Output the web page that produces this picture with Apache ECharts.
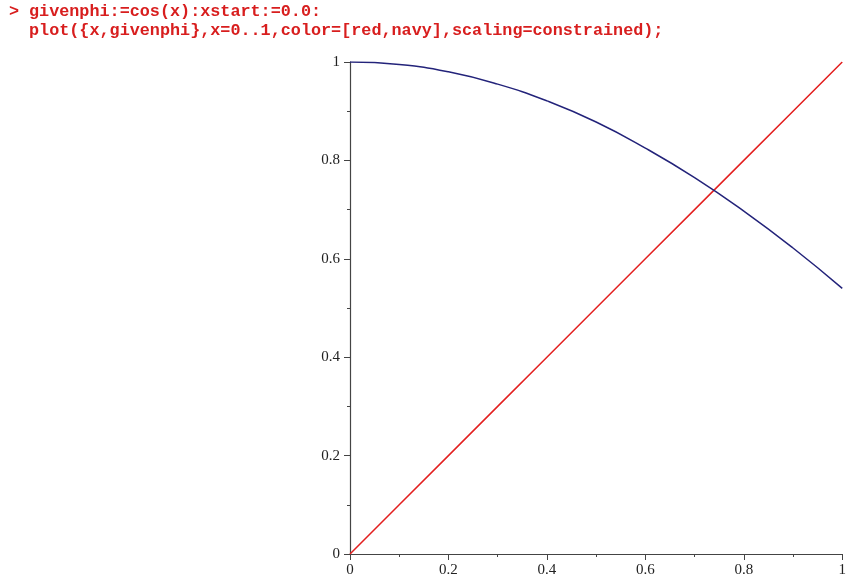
<!DOCTYPE html>
<html>
<head>
<meta charset="utf-8">
<script src="https://cdn.jsdelivr.net/npm/echarts@6/dist/echarts.min.js"></script>
<style>
  html, body { margin: 0; padding: 0; background: #fff; }
  #chart { width: 849px; height: 581px; }
</style>
</head>
<body>
<div id="chart"></div>
<script>
// x sample points
const xs = [0, 0.1, 0.2, 0.3, 0.4, 0.5, 0.6, 0.7, 0.8, 0.9, 1.0]
// red line: y = x
const redY = [0, 0.1, 0.2, 0.3, 0.4, 0.5, 0.6, 0.7, 0.8, 0.9, 1.0]
// navy curve: givenphi = cos(x)
const navyY = [1, 0.995, 0.980, 0.955, 0.921, 0.878, 0.825, 0.765, 0.697, 0.622, 0.540]
const tickLabels = ['0', '0.2', '0.4', '0.6', '0.8', '1']

const cmdLines = [
  'givenphi:=cos(x):xstart:=0.0:',
  'plot({x,givenphi},x=0..1,color=[red,navy],scaling=constrained);'
]

const chart = echarts.init(document.getElementById('chart'))

const axisCommon = {
  type: 'value',
  min: 0,
  max: 1,
  interval: 0.2,
  axisLine: { show: true, lineStyle: { color: '#444', width: 1.2 } },
  axisTick: { show: true, length: 6, lineStyle: { color: '#444' } },
  minorTick: { show: true, splitNumber: 2, length: 3, lineStyle: { color: '#444' } },
  splitLine: { show: false },
  axisLabel: {
    color: '#222',
    fontFamily: 'Liberation Serif',
    fontSize: 15,
    formatter: v => tickLabels[Math.round(v * 5)]
  }
}

const cmdFont = 'bold 16.8px "Liberation Mono"'

chart.setOption({
  animation: false,
  graphic: [
    { type: 'text', left: 9, top: 3, style: { text: '>', fill: '#d81e1e', font: cmdFont } },
    ...cmdLines.map((t, i) => ({
      type: 'text',
      left: 29,
      top: 3 + i * 19,
      style: { text: t, fill: '#d81e1e', font: cmdFont }
    }))
  ],
  grid: { left: 350, right: 4, top: 62, bottom: 27 },
  xAxis: { ...axisCommon, axisLabel: { ...axisCommon.axisLabel, margin: 9 } },
  yAxis: { ...axisCommon, axisLabel: { ...axisCommon.axisLabel, margin: 10 } },
  series: [
    {
      type: 'line',
      data: xs.map((x, i) => [x, redY[i]]),
      showSymbol: false,
      lineStyle: { color: '#e31e1e', width: 1.5 }
    },
    {
      type: 'line',
      smooth: true,
      data: xs.map((x, i) => [x, navyY[i]]),
      showSymbol: false,
      lineStyle: { color: '#23237a', width: 1.5 }
    }
  ]
})
</script>
</body>
</html>
